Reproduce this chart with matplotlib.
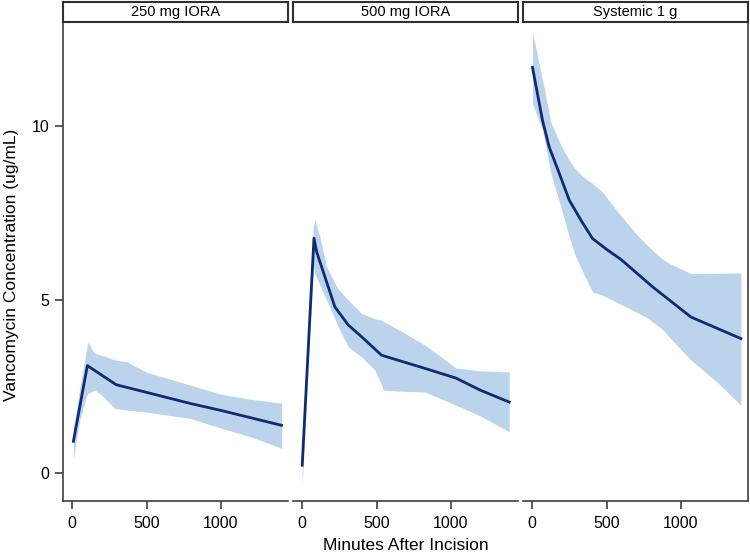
import matplotlib
matplotlib.use("Agg")
import matplotlib.pyplot as plt
import numpy as np

plt.rcParams['font.family'] = ['Liberation Sans', 'DejaVu Sans']

panels = ["250 mg IORA", "500 mg IORA", "Systemic 1 g"]

# 250 mg IORA
p1_line_x = [8, 102, 296, 500, 794, 1000, 1200, 1409]
p1_line_y = [0.92, 3.10, 2.55, 2.33, 2.01, 1.81, 1.60, 1.38]
p1_band_x = [8, 51, 96, 106, 143, 155, 211, 233, 289, 368, 500, 794, 1000, 1200, 1409]
p1_band_lo = [0.42, 1.55, 2.22, 2.30, 2.38, 2.39, 2.20, 2.10, 1.86, 1.82, 1.76, 1.58, 1.30, 1.05, 0.72]
p1_band_hi = [1.30, 2.45, 3.55, 3.78, 3.50, 3.45, 3.38, 3.35, 3.26, 3.21, 2.91, 2.54, 2.28, 2.13, 2.02]

# 500 mg IORA
p2_line_x = [0, 79, 97, 175, 220, 310, 400, 534, 826, 1035, 1200, 1393]
p2_line_y = [0.23, 6.77, 6.38, 5.37, 4.79, 4.27, 3.93, 3.40, 3.02, 2.74, 2.39, 2.05]
p2_band_x = [0, 40, 75, 85, 119, 164, 220, 242, 310, 400, 489, 534, 545, 691, 826, 1035, 1200, 1393]
p2_band_lo = [-0.35, 3.20, 6.00, 5.75, 5.42, 4.99, 4.44, 4.22, 3.64, 3.35, 2.97, 2.55, 2.39, 2.36, 2.34, 1.96, 1.65, 1.19]
p2_band_hi = [0.60, 3.80, 7.10, 7.29, 6.81, 5.95, 5.47, 5.30, 4.99, 4.60, 4.45, 4.41, 4.38, 4.03, 3.69, 3.03, 2.95, 2.92]

# Systemic 1 g
p3_line_x = [2, 69, 114, 182, 249, 328, 406, 507, 597, 810, 1068, 1404]
p3_line_y = [11.69, 10.17, 9.40, 8.64, 7.87, 7.29, 6.76, 6.43, 6.16, 5.37, 4.50, 3.88]
p3_band_x = [2, 69, 126, 193, 249, 283, 340, 406, 473, 585, 697, 765, 876, 921, 1068, 1250, 1404]
p3_band_lo = [10.65, 9.90, 8.64, 7.67, 6.81, 6.35, 5.80, 5.22, 5.13, 4.89, 4.65, 4.50, 4.15, 3.93, 3.26, 2.60, 1.96]
p3_band_hi = [12.72, 11.33, 10.10, 9.45, 9.02, 8.80, 8.55, 8.35, 8.10, 7.48, 6.91, 6.60, 6.17, 6.05, 5.75, 5.76, 5.77]

lines_x = [p1_line_x, p2_line_x, p3_line_x]
lines_y = [p1_line_y, p2_line_y, p3_line_y]
bands_x = [p1_band_x, p2_band_x, p3_band_x]
bands_lo = [p1_band_lo, p2_band_lo, p3_band_lo]
bands_hi = [p1_band_hi, p2_band_hi, p3_band_hi]

x_ticks = [0, 500, 1000]
y_ticks = [0, 5, 10]

W, H = 750, 558
fig = plt.figure(figsize=(7.5, 5.58), dpi=100)

line_color = "#0f2c72"
band_color = "#bcd3ec"
spine_color = "#404040"

lefts = [63, 293, 523]
pw = 225
top_px, bot_px = 22, 501
strip_top = 2

for i, name in enumerate(panels):
    l = lefts[i]
    ax = fig.add_axes([l / W, (H - bot_px) / H, pw / W, (bot_px - top_px) / H])
    ax.fill_between(bands_x[i], bands_lo[i], bands_hi[i], color=band_color, linewidth=0)
    ax.plot(lines_x[i], lines_y[i], color=line_color, linewidth=2.0, solid_joinstyle='round')
    ax.set_xlim(-62, 1452)
    ax.set_ylim(-0.8, 13.0)
    ax.set_xticks(x_ticks)
    ax.set_xticklabels([str(t) for t in x_ticks], fontsize=11.5)
    for s in ax.spines.values():
        s.set_color(spine_color)
        s.set_linewidth(1.2)
    ax.spines['top'].set_visible(False)
    ax.spines['left'].set_visible(i == 0)
    ax.spines['right'].set_visible(i == 2)
    ax.tick_params(axis='x', direction='out', length=6, width=1.2, color=spine_color, pad=5)
    if i == 0:
        ax.set_yticks(y_ticks)
        ax.set_yticklabels([str(t) for t in y_ticks], fontsize=11.5)
        ax.tick_params(axis='y', direction='out', length=6, width=1.2, color=spine_color, pad=4)
    else:
        ax.set_yticks([])
    # strip
    sax = fig.add_axes([l / W, (H - top_px) / H, pw / W, (top_px - strip_top) / H])
    sax.set_xticks([]); sax.set_yticks([])
    for s in sax.spines.values():
        s.set_color("#303030")
        s.set_linewidth(1.5)
    sax.text(0.5, 0.5, name, ha='center', va='center', fontsize=10.5, transform=sax.transAxes)

fig.text(405.5 / W, (H - 546) / H, "Minutes After Incision", ha='center', va='center', fontsize=12.5)
fig.text(12 / W, (H - 265) / H, "Vancomycin Concentration (ug/mL)", ha='center', va='center',
         rotation=90, fontsize=12.5)

fig.savefig("out.png", dpi=100, facecolor="white")
